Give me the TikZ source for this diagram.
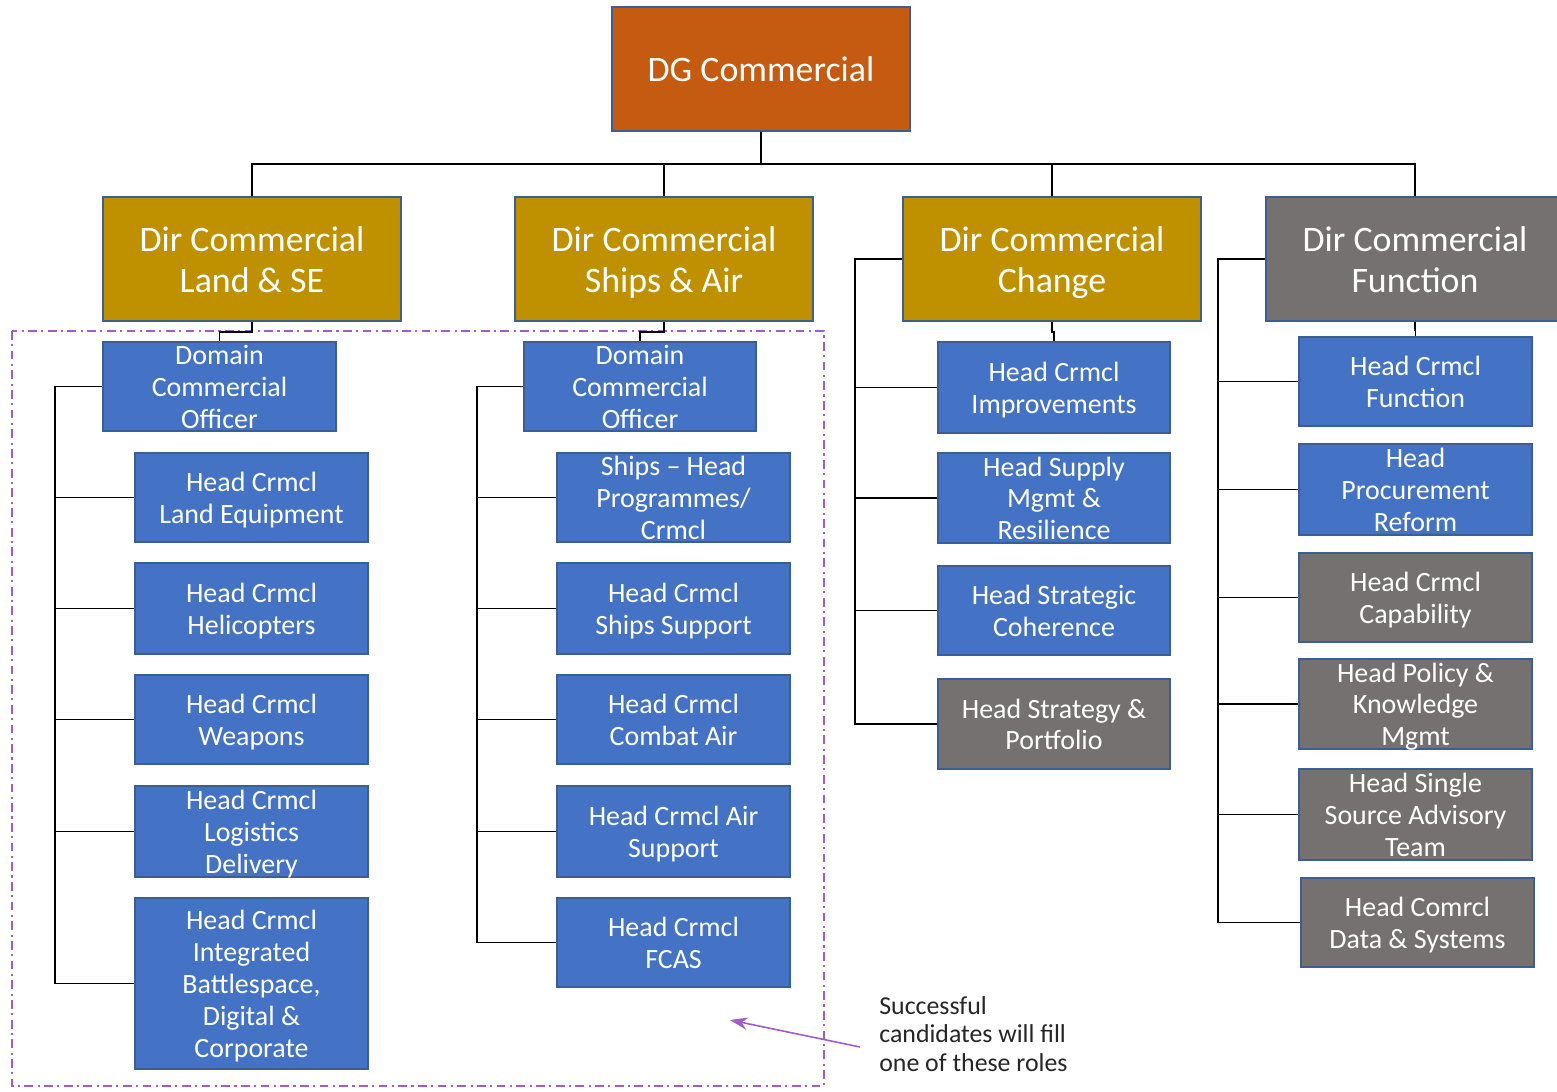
\documentclass[tikz,border=0pt]{standalone}
\usepackage{fontspec}
\setmainfont{Carlito}
\usetikzlibrary{arrows.meta}
\definecolor{cOrange}{HTML}{C55A11}
\definecolor{cGold}{HTML}{BF9000}
\definecolor{cGrey}{HTML}{767171}
\definecolor{cBlue}{HTML}{4472C4}
\definecolor{cEdge}{HTML}{3B5E95}
\definecolor{cPurple}{RGB}{160,92,200}
\definecolor{cNote}{HTML}{262626}
\newcommand\topstrut{\rule{0pt}{0.96em}}
\newcommand\botstrut{\rule[-0.25em]{0pt}{0.25em}}
\newcommand\orgbox[8]{% name, fill style, cx, cy, w, h, font style, text
  \node[boxshape,#2,minimum width=#5*0.02cm,minimum height=#6*0.02cm] (#1) at (#3,#4) {};
  \node[boxtext,#7] (#1-t) at (#1.center) {\topstrut#8\botstrut};
}
\tikzset{
  boxshape/.style={draw=cEdge,line width=0.7pt,inner sep=0pt,rectangle},
  boxtext/.style={text=white,align=center,inner sep=0pt},
  bigtext/.style={font=\fontsize{20.4pt}{23.2pt}\selectfont},
  smalltext/.style={font=\fontsize{15.9pt}{18.1pt}\selectfont},
  fillorange/.style={fill=cOrange},
  fillgold/.style={fill=cGold},
  fillgrey/.style={fill=cGrey},
  fillblue/.style={fill=cBlue},
  link/.style={draw=black,line width=1.1pt},
}
\begin{document}
\begin{tikzpicture}[x=0.02cm,y=-0.02cm]
\clip (0,0) rectangle (1557,1091);
\fill[white] (0,0) rectangle (1557,1091);

% dashed selection frame
\draw[cPurple,line width=1.1pt,dash pattern=on 5pt off 2.5pt on 1.2pt off 2.5pt] (12,331) rectangle (824,1086);

% top
\orgbox{dg}{fillorange}{761}{69}{298}{124}{bigtext}{DG Commercial}

% level 2
\orgbox{land}{fillgold}{252}{259}{298}{124}{bigtext}{Dir Commercial\\Land \& SE}
\orgbox{ships}{fillgold}{664}{259}{298}{124}{bigtext}{Dir Commercial\\Ships \& Air}
\orgbox{change}{fillgold}{1052}{259}{298}{124}{bigtext}{Dir Commercial\\Change}
\orgbox{func}{fillgrey}{1415}{259}{298}{124}{bigtext}{Dir Commercial\\Function}

% Land column
\orgbox{dco1}{fillblue}{219.5}{386.5}{233}{89}{smalltext}{Domain\\Commercial\\Officer}
\orgbox{le}{fillblue}{251.5}{497.5}{233}{89}{smalltext}{Head Crmcl\\Land Equipment}
\orgbox{heli}{fillblue}{251.5}{608.5}{233}{91}{smalltext}{Head Crmcl\\Helicopters}
\orgbox{weap}{fillblue}{251.5}{719.5}{233}{89}{smalltext}{Head Crmcl\\Weapons}
\orgbox{logi}{fillblue}{251.5}{831.5}{233}{91}{smalltext}{Head Crmcl\\Logistics\\Delivery}
\orgbox{ibdc}{fillblue}{251.5}{983.5}{233}{171}{smalltext}{Head Crmcl\\Integrated\\Battlespace,\\Digital \&\\Corporate}

% Ships column
\orgbox{dco2}{fillblue}{640}{386.5}{232}{89}{smalltext}{Domain\\Commercial\\Officer}
\orgbox{prog}{fillblue}{673.5}{497.5}{233}{89}{smalltext}{Ships -- Head\\Programmes/\\Crmcl}
\orgbox{ssup}{fillblue}{673.5}{608.5}{233}{91}{smalltext}{Head Crmcl\\Ships Support}
\orgbox{cair}{fillblue}{673.5}{719.5}{233}{89}{smalltext}{Head Crmcl\\Combat Air}
\orgbox{asup}{fillblue}{673.5}{831.5}{233}{91}{smalltext}{Head Crmcl Air\\Support}
\orgbox{fcas}{fillblue}{673.5}{942.5}{233}{89}{smalltext}{Head Crmcl\\FCAS}

% Change column
\orgbox{imp}{fillblue}{1054}{387.5}{232}{91}{smalltext}{Head Crmcl\\Improvements}
\orgbox{supply}{fillblue}{1054}{498}{232}{90}{smalltext}{Head Supply\\Mgmt \&\\Resilience}
\orgbox{coh}{fillblue}{1054}{610.5}{232}{89}{smalltext}{Head Strategic\\Coherence}
\orgbox{strat}{fillgrey}{1054}{724}{232}{90}{smalltext}{Head Strategy \&\\Portfolio}

% Function column
\orgbox{hcf}{fillblue}{1415.5}{381.5}{233}{89}{smalltext}{Head Crmcl\\Function}
\orgbox{proc}{fillblue}{1415.5}{489.5}{233}{91}{smalltext}{Head\\Procurement\\Reform}
\orgbox{cap}{fillgrey}{1415.5}{597.5}{233}{89}{smalltext}{Head Crmcl\\Capability}
\orgbox{pol}{fillgrey}{1415.5}{704}{233}{90}{smalltext}{Head Policy \&\\Knowledge\\Mgmt}
\orgbox{ssat}{fillgrey}{1415.5}{814.5}{233}{91}{smalltext}{Head Single\\Source Advisory\\Team}
\orgbox{data}{fillgrey}{1417.5}{922.5}{233}{89}{smalltext}{Head Comrcl\\Data \& Systems}

% top bus
\coordinate (bus) at (761,164);
\draw[link] (dg.south) -- (bus);
\draw[link] (land.north) |- (bus) -| (func.north);
\draw[link] (ships.north) -- (ships.north |- bus);
\draw[link] (change.north) -- (change.north |- bus);

% director to first report
\draw[link] (land.south) -- ++(0,10) -| (dco1.north);
\draw[link] (ships.south) -- ++(0,10) -| (dco2.north);
\draw[link] (change.south) -- ++(0,10) -| (imp.north);
\draw[link] (func.south) -- ++(0,8) -| (hcf.north);

% Land column bus
\draw[link] (dco1.west) -- ++(-47,0) coordinate (lb) |- (ibdc.west);
\foreach \n in {le,heli,weap,logi} \draw[link] (lb |- \n.west) -- (\n.west);

% Ships column bus
\draw[link] (dco2.west) -- ++(-46,0) coordinate (sb) |- (fcas.west);
\foreach \n in {prog,ssup,cair,asup} \draw[link] (sb |- \n.west) -- (\n.west);

% Change column bus
\draw[link] (change.west) -- ++(-47,0) coordinate (cb) |- (strat.west);
\foreach \n in {imp,supply,coh} \draw[link] (cb |- \n.west) -- (\n.west);

% Function column bus
\draw[link] (func.west) -- ++(-47,0) coordinate (fb) |- (data.west);
\foreach \n in {hcf,proc,cap,pol,ssat} \draw[link] (fb |- \n.west) -- (\n.west);

% annotation
\node[anchor=west,align=left,text=cNote,inner sep=0pt,font=\fontsize{14.7pt}{16.4pt}\selectfont] (note) at (879,1034) {Successful\\candidates will fill\\one of these roles};
\coordinate (tip) at (730,1020);
\draw[cPurple,line width=0.9pt,-{Stealth[length=10pt,width=7pt]}] ([shift={(-19,13)}]note.west) -- (tip);
\end{tikzpicture}
\end{document}
